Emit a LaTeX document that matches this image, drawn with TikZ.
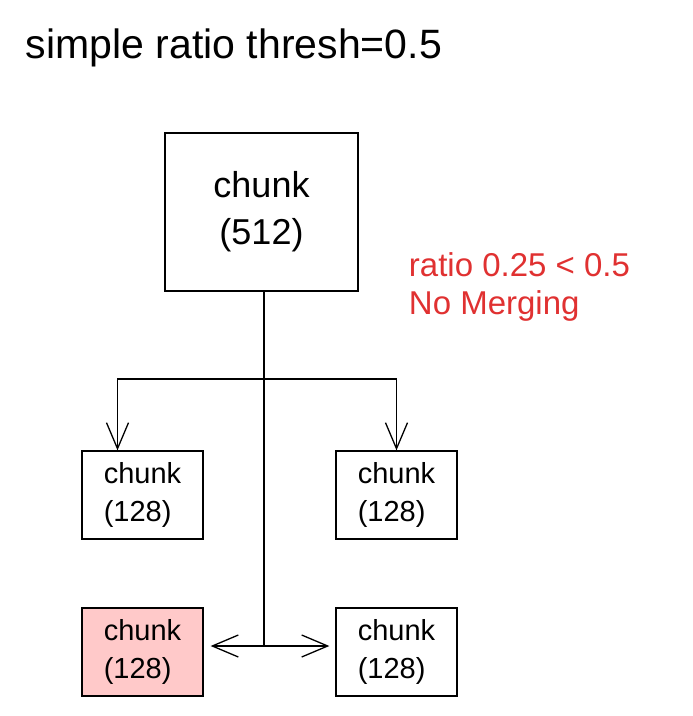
\documentclass[tikz,border=0pt]{standalone}
\usepackage{fontspec}
\setmainfont{Liberation Sans}
\usepackage{tikz}
\usetikzlibrary{arrows.meta,positioning}
\definecolor{notered}{HTML}{E03131}
\definecolor{droppink}{HTML}{FFC9C9}

\begin{document}
\begin{tikzpicture}[x=1pt,y=-1pt,line width=1.3pt,
      >={Straight Barb[length=26pt,width=22pt,line width=1.3pt]},
      bigchunk/.style={draw,minimum width=193pt,minimum height=158pt,
        align=center,font=\fontsize{36}{47}\selectfont},
      chunk/.style={draw,minimum width=121pt,minimum height=88pt,
        align=left,font=\fontsize{29}{38}\selectfont}]
			\useasboundingbox (0,0) rectangle (693,716);
			\node[anchor=base west,font=\fontsize{41}{44}\selectfont] (title) at (22,58) {simple ratio thresh=0.5};
			\node[bigchunk] (big) at (261.5,212) {chunk\\(512)};
			\node[chunk] (tl) at (142.5,495) {chunk\\(128)};
			\node[chunk] (tr) at (396.5,495) {chunk\\(128)};
			\node[chunk,fill=droppink] (bl) at (142.5,652) {chunk\\(128)};
			\node[chunk] (br) at (396.5,652) {chunk\\(128)};
			\node[anchor=base west,align=left,text=notered,
			  font=\fontsize{33}{38}\selectfont] (note) at (405,314) {ratio 0.25 < 0.5\\No Merging};
			\coordinate (fork) at (264,379);
			\coordinate (hub) at (264,646);
			\draw ([xshift=2.5pt]big.south) -- (hub);
			\draw[->] (fork) -| ([xshift=-25pt]tl.north);
			\draw[->] (fork) -| (tr.north);
			\draw[->] (hub) -- ([xshift=7pt]bl.east |- hub);
			\draw[->] (hub) -- ([xshift=-6pt]br.west |- hub);
		\end{tikzpicture}
\end{document}
